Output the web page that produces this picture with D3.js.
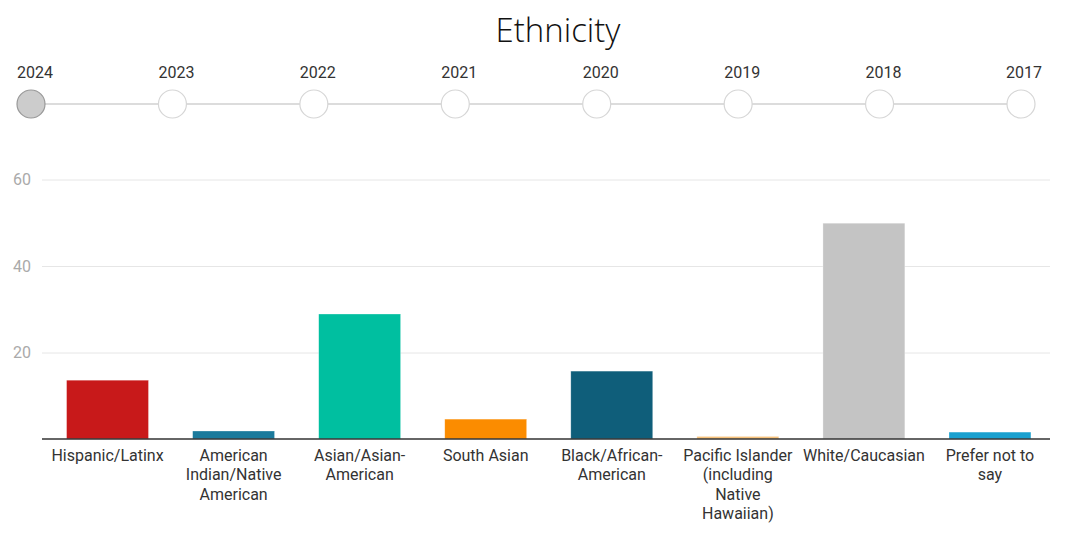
<!DOCTYPE html>
<html><head><meta charset="utf-8">
<script src="https://cdn.jsdelivr.net/npm/d3@7"></script>
<style>html,body{margin:0;padding:0;background:#fff;}svg{display:block;}</style>
</head><body>
<svg id="chart" width="1080" height="537"></svg>
<script>
const title = "Ethnicity";
const years = ["2024","2023","2022","2021","2020","2019","2018","2017"];
const selectedYear = "2024";
const categories = ["Hispanic/Latinx","American\nIndian/Native\nAmerican","Asian/Asian-\nAmerican","South Asian","Black/African-\nAmerican","Pacific Islander\n(including\nNative\nHawaiian)","White/Caucasian","Prefer not to\nsay"];
const values = [13.6, 1.85, 28.9, 4.6, 15.7, 0.6, 49.9, 1.6];
const colors = ["#c8191a","#1b7a9c","#00bfa0","#fb8c00","#0f5e7a","#f7c27b","#c4c4c4","#19a0cf"];
const yTicks = [20, 40, 60];

const svg = d3.select("#chart");

svg.append("text").attr("x", 558).attr("y", 42).attr("text-anchor","middle")
  .attr("font-family","'Open Sans', sans-serif").attr("font-weight",300)
  .attr("font-size",33).attr("fill","#111").text(title);

// timeline
const tx = d3.scalePoint().domain(years).range([31, 1021]);
svg.append("line").attr("x1",tx(years[0])).attr("x2",tx(years[years.length-1]))
  .attr("y1",104).attr("y2",104).attr("stroke","#dcdcdc").attr("stroke-width",2);
const tg = svg.append("g").selectAll("g").data(years).join("g")
  .attr("transform", d => `translate(${tx(d)},0)`);
tg.append("circle").attr("cy",104).attr("r",14)
  .attr("fill", d => d===selectedYear ? "#cccccc" : "#fff")
  .attr("stroke", d => d===selectedYear ? "#999" : "#d6d6d6").attr("stroke-width",1.2);
tg.append("text").attr("y",78).attr("text-anchor","middle")
  .attr("font-family","Roboto, sans-serif").attr("font-size",16).attr("fill","#333")
  .attr("dx", (d,i) => i===0 ? 4 : (i===years.length-1 ? 3 : 4))
  .text(d => d);

// chart
const x = d3.scaleBand().domain(categories).range([44.5, 1053]).paddingInner(0.35).paddingOuter(0.175);
const y = d3.scaleLinear().domain([0, 60]).range([439, 179.5]);

const grid = svg.append("g").attr("transform","translate(42,0)")
  .call(d3.axisLeft(y).tickValues(yTicks).tickSize(-1008).tickFormat(""));
grid.select(".domain").remove();
grid.selectAll(".tick line").attr("stroke","#e6e6e6").attr("stroke-width",1);

const yl = svg.append("g").attr("transform","translate(31,0)")
  .call(d3.axisLeft(y).tickValues(yTicks).tickSize(0).tickPadding(0));
yl.select(".domain").remove();
yl.selectAll("text").attr("font-family","Roboto, sans-serif").attr("font-size",16).attr("fill","#aaa");

svg.append("g").selectAll("rect").data(values).join("rect")
  .attr("x", (d,i) => x(categories[i]))
  .attr("width", x.bandwidth())
  .attr("y", d => y(d))
  .attr("height", d => y(0) - y(d))
  .attr("fill", (d,i) => colors[i])
  .attr("stroke","#fff").attr("stroke-opacity",0.5).attr("stroke-width",0.6);

const xa = svg.append("g").attr("transform",`translate(0,${y(0)})`)
  .call(d3.axisBottom(x).tickSize(0).tickFormat(""));
xa.select(".domain").attr("d","M42,0H1050").attr("stroke","#333").attr("stroke-width",1.5);

const lab = svg.append("g").selectAll("text").data(categories).join("text")
  .attr("text-anchor","middle")
  .attr("font-family","Roboto, sans-serif").attr("font-size",16).attr("fill","#333")
  .attr("transform", d => `translate(${x(d)+x.bandwidth()/2},461)`);
lab.selectAll("tspan").data(d => d.split("\n")).join("tspan")
  .attr("x",0).attr("dy",(d,i) => i===0 ? 0 : 19.3).text(d => d);
</script>
</body></html>
